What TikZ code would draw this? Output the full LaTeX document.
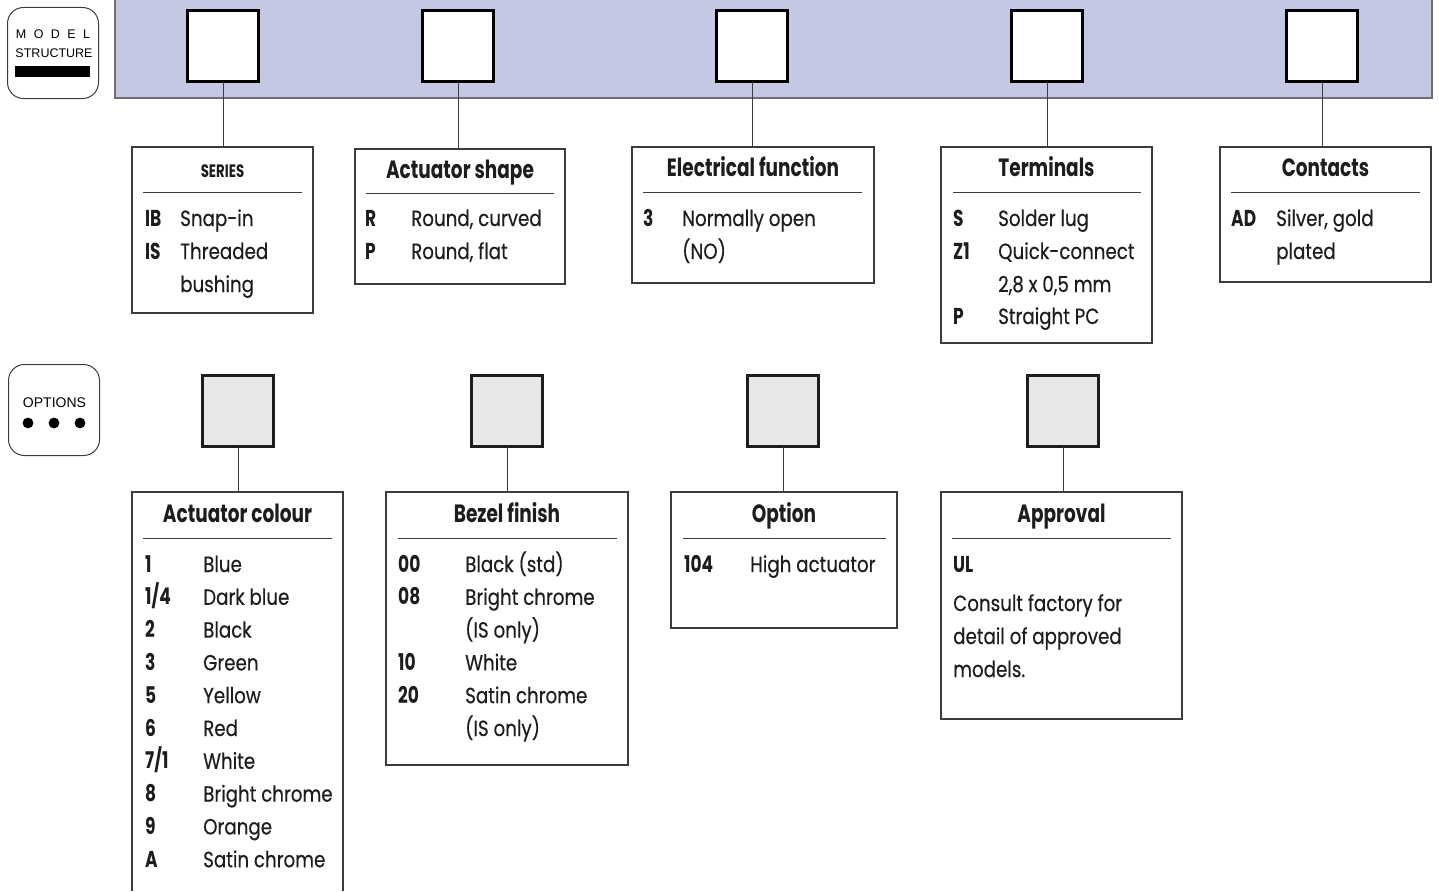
\documentclass[tikz,border=0pt]{standalone}
\usepackage{fontspec}
\setmainfont{Poppins}[FakeStretch=0.83, FakeBold=0.35]
\newfontfamily\titlefont{Poppins}[FakeStretch=0.74]
\newfontfamily\iconfont{Liberation Sans}
\definecolor{bandfill}{RGB}{197,200,227}
\definecolor{bandedge}{RGB}{110,110,115}
\definecolor{optfill}{RGB}{230,231,232}
\definecolor{boxedge}{RGB}{60,60,60}
\definecolor{ink}{RGB}{30,28,28}
\newcounter{rc}
\newcommand\myrow[5]{\stepcounter{rc}%
  \node[codetxt] (rc\arabic{rc}) at (#1,#3) {#4};%
  \node[bodytxt] (rt\arabic{rc}) at (#2,#3) {#5};}
\newcommand\mytext[3]{\stepcounter{rc}%
  \node[bodytxt] (rt\arabic{rc}) at (#1,#2) {#3};}
\begin{document}
\begin{tikzpicture}[x=1pt,y=-1pt,
  topsq/.style={draw=black, fill=white, line width=2.6pt, minimum size=71.5pt, inner sep=0pt, outer sep=0pt},
  optsq/.style={draw=ink, fill=optfill, line width=2.6pt, minimum size=71.5pt, inner sep=0pt, outer sep=0pt},
  infobox/.style={draw=boxedge, line width=1.2pt, inner sep=0pt, outer sep=0pt},
  conn/.style={draw=boxedge, line width=1pt},
  rule/.style={draw=boxedge, line width=1pt},
  codetxt/.style={anchor=base west, inner sep=0pt, text=ink, font=\titlefont\bfseries\fontsize{23}{23}\selectfont},
  bodytxt/.style={anchor=base west, inner sep=0pt, text=ink, font=\fontsize{22}{22}\selectfont},
  titletxt/.style={anchor=base, inner sep=0pt, text=ink, font=\titlefont\bfseries\fontsize{25}{25}\selectfont},
  icon/.style={draw=boxedge, line width=1pt, rounded corners=16pt, minimum width=91pt, minimum height=91pt, inner sep=0pt, outer sep=0pt}
]
\useasboundingbox (0,0) rectangle (1439,891);

% ---------- model structure band ----------
\fill[bandfill] (115,0) rectangle (1432,98);
\draw[bandedge, line width=1.4pt] (115,0) -- (115,98) -- (1432,98) -- (1432,0);

% icon model structure
\node[icon] (msicon) at (53,53) {};
\node[anchor=base, inner sep=0pt, font=\iconfont\fontsize{12.5}{12.5}\selectfont] (mstxt1) at (53,38) {\makebox[74pt][s]{M\hfill O\hfill D\hfill E\hfill L}};
\node[anchor=base, inner sep=0pt, font=\iconfont\fontsize{12.5}{12.5}\selectfont] (mstxt2) at (53,57) {\makebox[75pt][s]{STRUCTURE}};
\fill[black] (15,66) rectangle (90,77);

% icon options
\node[icon] (opicon) at (54,410) {};
\node[anchor=base, inner sep=0pt, font=\iconfont\fontsize{14}{14}\selectfont] (optxt) at (54.5,407.5) {OPTIONS};
\fill[black] (28,423) circle (5.4) (54,423) circle (5.4) (80,423) circle (5.4);

% ---------- top squares ----------
\node[topsq] (sqA) at (223,46) {};
\node[topsq] (sqB) at (458,46) {};
\node[topsq] (sqC) at (752,46) {};
\node[topsq] (sqD) at (1047,46) {};
\node[topsq] (sqE) at (1322,46) {};

% ---------- top boxes ----------
\node[infobox, minimum width=181pt, minimum height=166pt] (bxA) at (222.5,230) {};
\node[infobox, minimum width=210pt, minimum height=135pt] (bxB) at (460,216.5) {};
\node[infobox, minimum width=242pt, minimum height=136pt] (bxC) at (753,215) {};
\node[infobox, minimum width=211pt, minimum height=196pt] (bxD) at (1046.5,245) {};
\node[infobox, minimum width=211pt, minimum height=135pt] (bxE) at (1325.5,214.5) {};

\draw[conn] (sqA.south) -- (sqA.south |- bxA.north);
\draw[conn] (sqB.south) -- (sqB.south |- bxB.north);
\draw[conn] (sqC.south) -- (sqC.south |- bxC.north);
\draw[conn] (sqD.south) -- (sqD.south |- bxD.north);
\draw[conn] (sqE.south) -- (sqE.south |- bxE.north);

% titles and rules
\node[titletxt, font=\titlefont\bfseries\fontsize{18}{18}\selectfont] (ttA) at (222.5,177) {SERIES};
\draw[rule] (143,192) -- (302,192);
\node[titletxt] (ttB) at (460,178) {Actuator shape};
\draw[rule] (366,193) -- (554,193);
\node[titletxt] (ttC) at (753,176) {Electrical function};
\draw[rule] (643,192) -- (862,192);
\node[titletxt] (ttD) at (1046.5,176) {Terminals};
\draw[rule] (953,192) -- (1141,192);
\node[titletxt] (ttE) at (1325.5,176) {Contacts};
\draw[rule] (1231,192) -- (1420,192);

% rows
\myrow{145}{180}{226}{IB}{Snap-in}
\myrow{145}{180}{259}{IS}{Threaded}
\mytext{180}{292}{bushing}

\myrow{365}{411}{226}{R}{Round, curved}
\myrow{365}{411}{259}{P}{Round, flat}

\myrow{643}{682}{226}{3}{Normally open}
\mytext{682}{259}{(NO)}

\myrow{953}{998}{226}{S}{Solder lug}
\myrow{953}{998}{259}{Z1}{Quick-connect}
\mytext{998}{292}{2,8 x 0,5 mm}
\myrow{953}{998}{324}{P}{Straight PC}

\myrow{1231}{1276}{226}{AD}{Silver, gold}
\mytext{1276}{259}{plated}

% ---------- option squares ----------
\node[optsq] (osA) at (238,411) {};
\node[optsq] (osB) at (507,411) {};
\node[optsq] (osC) at (783,411) {};
\node[optsq] (osD) at (1063,411) {};

% bottom boxes
\node[minimum width=211pt, minimum height=399pt, inner sep=0pt, outer sep=0pt] (obA) at (237.5,691.5) {};
\draw[boxedge, line width=1.2pt] (obA.south west) -- (obA.north west) -- (obA.north east) -- (obA.south east);
\node[infobox, minimum width=242pt, minimum height=273pt] (obB) at (507,628.5) {};
\node[infobox, minimum width=226pt, minimum height=136pt] (obC) at (784,560) {};
\node[infobox, minimum width=241pt, minimum height=227pt] (obD) at (1061.5,605.5) {};

\draw[conn] (osA.south) -- (osA.south |- obA.north);
\draw[conn] (osB.south) -- (osB.south |- obB.north);
\draw[conn] (osC.south) -- (osC.south |- obC.north);
\draw[conn] (osD.south) -- (osD.south |- obD.north);

\node[titletxt] (otA) at (237.5,522) {Actuator colour};
\draw[rule] (143,538) -- (332,538);
\node[titletxt] (otB) at (507,522) {Bezel finish};
\draw[rule] (398,538) -- (617,538);
\node[titletxt] (otC) at (784,522) {Option};
\draw[rule] (683,538) -- (886,538);
\node[titletxt] (otD) at (1061.5,522) {Approval};
\draw[rule] (952,538) -- (1171,538);

\myrow{145}{203}{572}{1}{Blue}
\myrow{145}{203}{604.8}{1/4}{Dark blue}
\myrow{145}{203}{637.6}{2}{Black}
\myrow{145}{203}{670.4}{3}{Green}
\myrow{145}{203}{703.2}{5}{Yellow}
\myrow{145}{203}{736}{6}{Red}
\myrow{145}{203}{768.8}{7/1}{White}
\myrow{145}{203}{801.6}{8}{Bright chrome}
\myrow{145}{203}{834.4}{9}{Orange}
\myrow{145}{203}{867.2}{A}{Satin chrome}

\myrow{398}{465}{572}{00}{Black (std)}
\myrow{398}{465}{604.8}{08}{Bright chrome}
\mytext{465}{637.6}{(IS only)}
\myrow{398}{465}{670.4}{10}{White}
\myrow{398}{465}{703.2}{20}{Satin chrome}
\mytext{465}{736}{(IS only)}

\myrow{684}{750}{572}{104}{High actuator}

\stepcounter{rc}\node[codetxt] (rc\arabic{rc}) at (953,572) {UL};
\mytext{953}{611}{Consult factory for}
\mytext{953}{644}{detail of approved}
\mytext{953}{677}{models.}
\end{tikzpicture}
\end{document}
